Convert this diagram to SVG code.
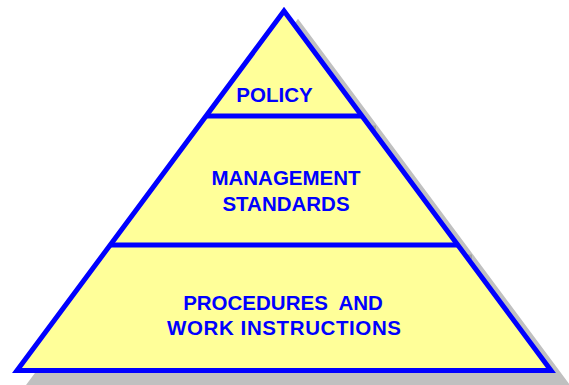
<svg xmlns="http://www.w3.org/2000/svg" width="569" height="385" viewBox="0 0 569 385">
  <style>
    .lbl { font-family: "Liberation Sans", Arial, sans-serif; font-weight: bold; font-size: 20.5px; fill: #0000ff; text-anchor: middle; }
    .edge { stroke: #0000ff; stroke-width: 5; fill: none; }
  </style>
  <rect width="569" height="385" fill="#ffffff"/>
  <g id="shadow" transform="translate(14,12)">
    <polygon points="284,11 17,370.5 551,370.5" fill="#c0c0c0" stroke="#c0c0c0" stroke-width="5"/>
    <line x1="206" y1="116" x2="362" y2="116" stroke="#a0a0a0" stroke-width="5"/>
    <line x1="110" y1="245" x2="458" y2="245" stroke="#a0a0a0" stroke-width="5"/>
  </g>
  <g id="pyramid">
    <polygon points="284,11 17,370.5 551,370.5" fill="#ffff99" stroke="#0000ff" stroke-width="5"/>
  </g>
  <g id="connectors">
    <line class="edge" x1="206" y1="116" x2="362" y2="116"/>
    <line class="edge" x1="110" y1="245" x2="458" y2="245"/>
  </g>
  <g id="policy">
    <text class="lbl" x="274.5" y="102">POLICY</text>
  </g>
  <g id="management">
    <text class="lbl" x="286" y="185">MANAGEMENT</text>
    <text class="lbl" x="286" y="211">STANDARDS</text>
  </g>
  <g id="procedures">
    <text class="lbl" x="283" y="310" xml:space="preserve">PROCEDURES  AND</text>
    <text class="lbl" x="284" y="335" textLength="234" lengthAdjust="spacing">WORK INSTRUCTIONS</text>
  </g>
</svg>
